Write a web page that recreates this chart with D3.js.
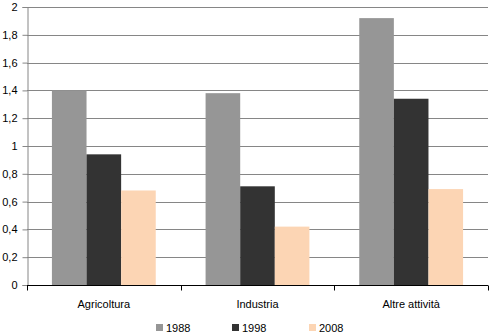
<!DOCTYPE html>
<html><head><meta charset="utf-8">
<script src="https://cdn.jsdelivr.net/npm/d3@7"></script>
<style>body{margin:0;background:#fff}svg{display:block;font-family:"Liberation Sans",Arial,sans-serif}</style>
</head><body><svg id="c" width="492" height="336"></svg>
<script>
const categories = ["Agricoltura", "Industria", "Altre attività"];
const series = ["1988", "1998", "2008"];
const v1988 = [1.40, 1.38, 1.92];
const v1998 = [0.94, 0.71, 1.34];
const v2008 = [0.68, 0.42, 0.69];
const yTicks = [0, 0.2, 0.4, 0.6, 0.8, 1, 1.2, 1.4, 1.6, 1.8, 2];
const colors = ["#969696", "#333333", "#FCD5B4"];
const values = [v1988, v1998, v2008];

const svg = d3.select("#c");
const L = 27, R = 488, T = 7, B = 285;
const x = d3.scaleBand().domain(categories).range([L, R]).padding(0);
const xs = d3.scaleBand().domain(series).range([0, x.bandwidth()]).paddingOuter(0.72).paddingInner(0);
const y = d3.scaleLinear().domain([0, 2]).range([B, T]);
const fmt = d => String(d).replace(".", ",");

// gridlines
svg.append("g").selectAll("line").data(yTicks.filter(d => d > 0)).join("line")
  .attr("x1", L).attr("x2", R).attr("y1", d => Math.round(y(d)) + 0.5).attr("y2", d => Math.round(y(d)) + 0.5)
  .attr("stroke", "#868686").attr("stroke-width", 1);

// bars
series.forEach((s, i) => {
  svg.append("g").selectAll("rect").data(categories).join("rect")
    .attr("x", c => x(c) + xs(s)).attr("width", xs.bandwidth())
    .attr("y", (c, j) => y(values[i][j])).attr("height", (c, j) => B - y(values[i][j]))
    .attr("fill", colors[i]);
});

// y axis
const ya = svg.append("g").attr("transform", `translate(${L + 0.5},0)`)
  .call(d3.axisLeft(y).tickValues(yTicks).tickFormat(fmt).tickSize(5).tickPadding(5));
ya.select(".domain").attr("stroke", "#868686");
ya.selectAll(".tick line").attr("stroke", "#868686");
ya.selectAll("text").attr("font-size", 11).attr("fill", "#000").attr("font-family", "Liberation Sans, Arial, sans-serif");

// x axis
const xa = svg.append("g").attr("transform", `translate(0,${B + 0.5})`);
xa.append("line").attr("x1", L).attr("x2", R).attr("stroke", "#000");
const bounds = [L].concat(categories.map(c => x(c) + x.bandwidth()));
xa.selectAll("line.t").data(bounds).join("line").attr("class", "t")
  .attr("x1", d => Math.round(d) + 0.5).attr("x2", d => Math.round(d) + 0.5).attr("y1", 0).attr("y2", 5).attr("stroke", "#000");
xa.selectAll("text").data(categories).join("text")
  .attr("x", c => x(c) + x.bandwidth() / 2).attr("y", 22).attr("text-anchor", "middle")
  .attr("font-size", 11).attr("fill", "#000").text(c => c);

// legend
const lx = [156, 232, 309];
const lg = svg.append("g");
series.forEach((s, i) => {
  lg.append("rect").attr("x", lx[i]).attr("y", 324).attr("width", 7).attr("height", 7).attr("fill", colors[i]);
  lg.append("text").attr("x", lx[i] + 10).attr("y", 332).attr("font-size", 11).attr("fill", "#000").text(s);
});
</script></body></html>
